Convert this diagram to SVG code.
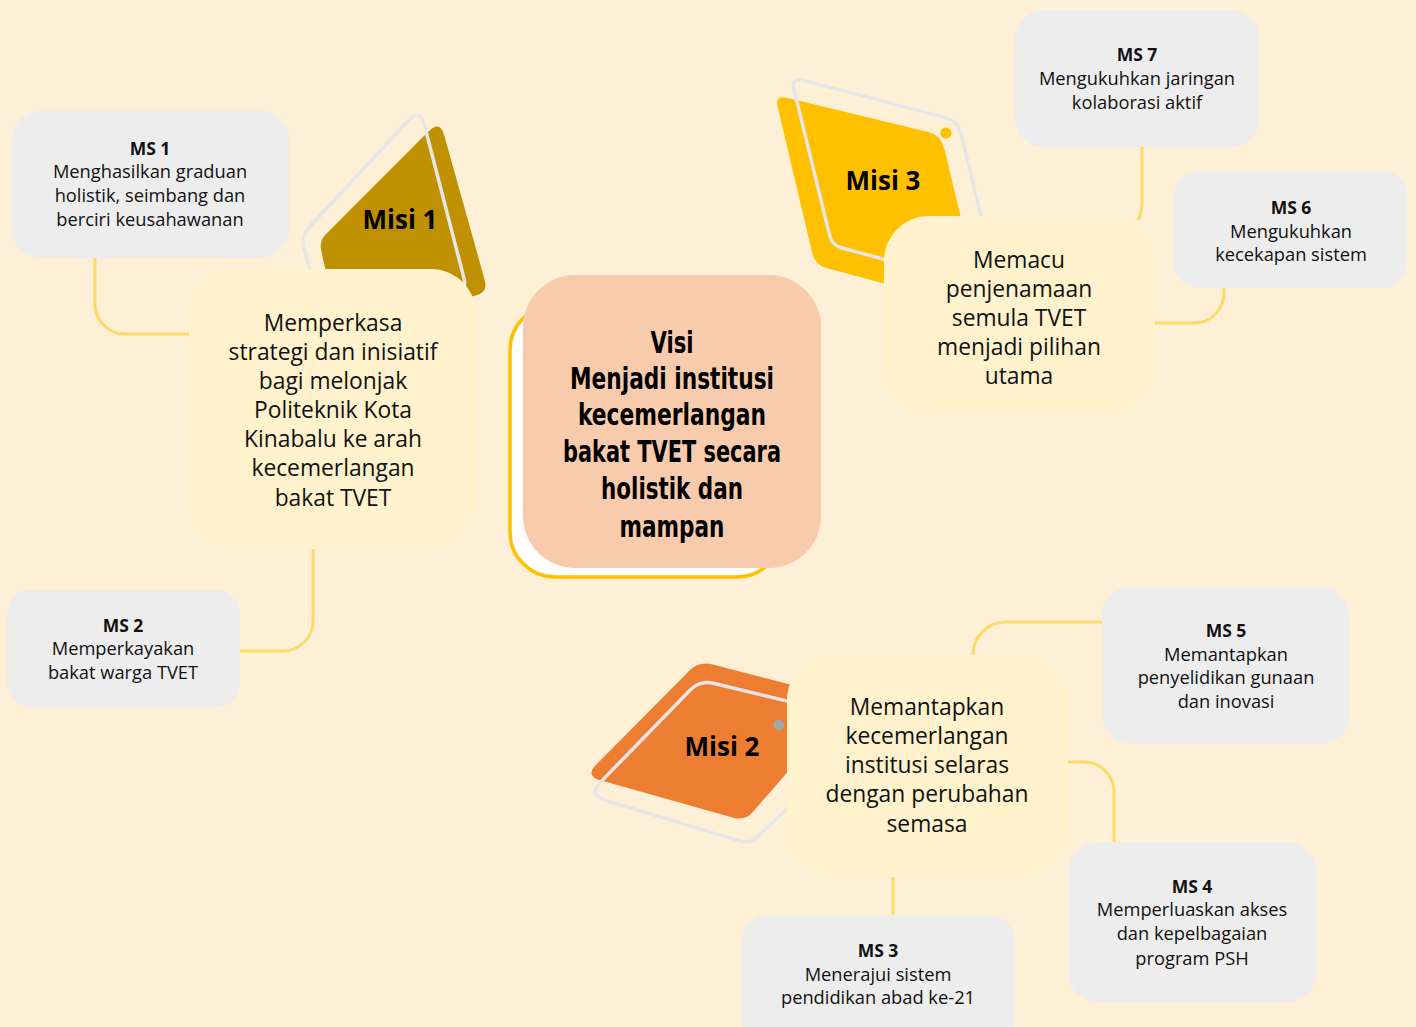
<svg xmlns="http://www.w3.org/2000/svg" width="1416" height="1027" viewBox="0 0 1416 1027">
<style>
.ms{fill:#EDEDED}
.misibox{fill:#FFF2CC}
.outline{fill:none;stroke:#E7E6E6;stroke-width:3.5;stroke-linejoin:round}
.conn path{fill:none;stroke:#FFD966;stroke-width:3}
.t{font-family:"Open Sans","Liberation Sans",sans-serif;fill:#111;text-anchor:middle}
.mst{font-size:18.3px}
.msh{font-size:17.5px;font-weight:bold}
.mt{font-size:22.8px}
.ml{font-family:"Open Sans","Liberation Sans",sans-serif;font-size:26px;font-weight:bold;fill:#000;text-anchor:middle}
.vt{font-family:"Liberation Sans Narrow","DejaVu Sans Condensed","Liberation Sans",sans-serif;font-size:31px;font-weight:bold;fill:#000;text-anchor:middle}
</style>
<rect x="0" y="0" width="1416" height="1027" fill="#FDF0D6"/>

<g id="misi1-shape">
<path fill="#BF9000" d="M326.1,233.9 L428.7,131.3 Q440,120 444.3,135.4 L484.8,280.4 Q488,292 476.5,295.3 L340,335 L321.2,250.8 Q319,241 326.1,233.9 Z"/>
<path class="outline" d="M309.2,227.2 L407.7,121.2 Q420,108 424.5,125.4 L464,278.4 Q467,290 455.4,293.3 L325,330 L304,247.6 Q301,236 309.2,227.2 Z"/>
<text class="ml" x="400" y="229">Misi 1</text>
</g>
<g id="misi3-shape">
<path fill="#FFC000" d="M786.7,97.8 L927.4,131.7 Q941,135 944.3,148.6 L983,310 L826.6,268.1 Q815,265 812.3,253.3 L777.7,106.7 Q775,95 786.7,97.8 Z"/>
<path class="outline" d="M802.6,80.1 L944.5,117.4 Q958,121 961.3,134.6 L999,291 L841.6,247.7 Q832,245 829.6,235.3 L793.8,88.7 Q791,77 802.6,80.1 Z"/>
<circle cx="946" cy="133" r="5.5" fill="#FFC000"/>
<text class="ml" x="883" y="190">Misi 3</text>
</g>
<g id="misi2-shape">
<path fill="#ED7D31" d="M712.6,664.5 L850,700 L752.9,811.9 Q745,821 733.4,817.7 L600.4,780.3 Q585,776 596.3,764.6 L689.1,670.9 Q699,661 712.6,664.5 Z"/>
<path class="outline" d="M713.6,683.3 L878,723 L757.3,837.1 Q750,844 740.4,841.1 L605.2,800.2 Q588,795 600.6,782.1 L690.2,690 Q700,680 713.6,683.3 Z"/>
<circle cx="779" cy="725" r="5.5" fill="#A5A5A5"/>
<text class="ml" x="722" y="756">Misi 2</text>
</g>

<g id="connectors" class="conn">
<path d="M95,258 V304 A30,30 0 0 0 125,334 H192"/>
<path d="M313,548 V621 A30,30 0 0 1 283,651 H240"/>
<path d="M1142,147 V202 Q1142,213 1138,220"/>
<path d="M1155,323 H1194 A30,30 0 0 0 1224,293 V288"/>
<path d="M973,655 A33,33 0 0 1 1006,622 H1102"/>
<path d="M1068,762 H1084 A30,30 0 0 1 1114,792 V842"/>
<path d="M893,877 V915"/>
</g>

<g id="visi">
<rect x="510" y="305" width="272" height="272" rx="45" fill="#FFFFFF" stroke="#FFC000" stroke-width="3.5"/>
<rect x="523" y="275" width="298" height="293" rx="52" fill="#F8CBAD"/>
<text class="vt" x="672" y="353" textLength="43" lengthAdjust="spacingAndGlyphs">Visi</text>
<text class="vt" x="672" y="389" textLength="204" lengthAdjust="spacingAndGlyphs">Menjadi institusi</text>
<text class="vt" x="672" y="425" textLength="188" lengthAdjust="spacingAndGlyphs">kecemerlangan</text>
<text class="vt" x="672" y="462" textLength="218" lengthAdjust="spacingAndGlyphs">bakat TVET secara</text>
<text class="vt" x="672" y="499" textLength="142" lengthAdjust="spacingAndGlyphs">holistik dan</text>
<text class="vt" x="672" y="537" textLength="105" lengthAdjust="spacingAndGlyphs">mampan</text>
</g>

<g id="misi1">
<rect class="misibox" x="189" y="269" width="287" height="280" rx="45"/>
<text class="t mt" x="333" y="331">Memperkasa</text>
<text class="t mt" x="333" y="360">strategi dan inisiatif</text>
<text class="t mt" x="333" y="389">bagi melonjak</text>
<text class="t mt" x="333" y="418">Politeknik Kota</text>
<text class="t mt" x="333" y="447">Kinabalu ke arah</text>
<text class="t mt" x="333" y="476">kecemerlangan</text>
<text class="t mt" x="333" y="506">bakat TVET</text>
</g>
<g id="misi3">
<rect class="misibox" x="884" y="216" width="271" height="198" rx="45"/>
<text class="t mt" x="1019" y="268">Memacu</text>
<text class="t mt" x="1019" y="297">penjenamaan</text>
<text class="t mt" x="1019" y="326">semula TVET</text>
<text class="t mt" x="1019" y="355">menjadi pilihan</text>
<text class="t mt" x="1019" y="384">utama</text>
</g>
<g id="misi2">
<rect class="misibox" x="787" y="655" width="281" height="220" rx="45"/>
<text class="t mt" x="927" y="715">Memantapkan</text>
<text class="t mt" x="927" y="744">kecemerlangan</text>
<text class="t mt" x="927" y="773">institusi selaras</text>
<text class="t mt" x="927" y="802">dengan perubahan</text>
<text class="t mt" x="927" y="832">semasa</text>
</g>

<g id="ms1">
<rect class="ms" x="12" y="111" width="277" height="147" rx="28"/>
<text class="t msh" x="150" y="155">MS 1</text>
<text class="t mst" x="150" y="178">Menghasilkan graduan</text>
<text class="t mst" x="150" y="202">holistik, seimbang dan</text>
<text class="t mst" x="150" y="226">berciri keusahawanan</text>
</g>
<g id="ms2">
<rect class="ms" x="7" y="590" width="233" height="117" rx="24"/>
<text class="t msh" x="123" y="632">MS 2</text>
<text class="t mst" x="123" y="655">Memperkayakan</text>
<text class="t mst" x="123" y="679">bakat warga TVET</text>
</g>
<g id="ms3">
<rect class="ms" x="742" y="915" width="273" height="130" rx="26"/>
<text class="t msh" x="878" y="957">MS 3</text>
<text class="t mst" x="878" y="981">Menerajui sistem</text>
<text class="t mst" x="878" y="1004">pendidikan abad ke-21</text>
</g>
<g id="ms4">
<rect class="ms" x="1069" y="842" width="247" height="160" rx="28"/>
<text class="t msh" x="1192" y="893">MS 4</text>
<text class="t mst" x="1192" y="916">Memperluaskan akses</text>
<text class="t mst" x="1192" y="940">dan kepelbagaian</text>
<text class="t mst" x="1192" y="965">program PSH</text>
</g>
<g id="ms5">
<rect class="ms" x="1102" y="587" width="247" height="157" rx="28"/>
<text class="t msh" x="1226" y="637">MS 5</text>
<text class="t mst" x="1226" y="661">Memantapkan</text>
<text class="t mst" x="1226" y="684">penyelidikan gunaan</text>
<text class="t mst" x="1226" y="708">dan inovasi</text>
</g>
<g id="ms6">
<rect class="ms" x="1174" y="171" width="233" height="117" rx="24"/>
<text class="t msh" x="1291" y="214">MS 6</text>
<text class="t mst" x="1291" y="238">Mengukuhkan</text>
<text class="t mst" x="1291" y="261">kecekapan sistem</text>
</g>
<g id="ms7">
<rect class="ms" x="1015" y="10" width="244" height="137" rx="28"/>
<text class="t msh" x="1137" y="61">MS 7</text>
<text class="t mst" x="1137" y="85">Mengukuhkan jaringan</text>
<text class="t mst" x="1137" y="109">kolaborasi aktif</text>
</g>
</svg>
